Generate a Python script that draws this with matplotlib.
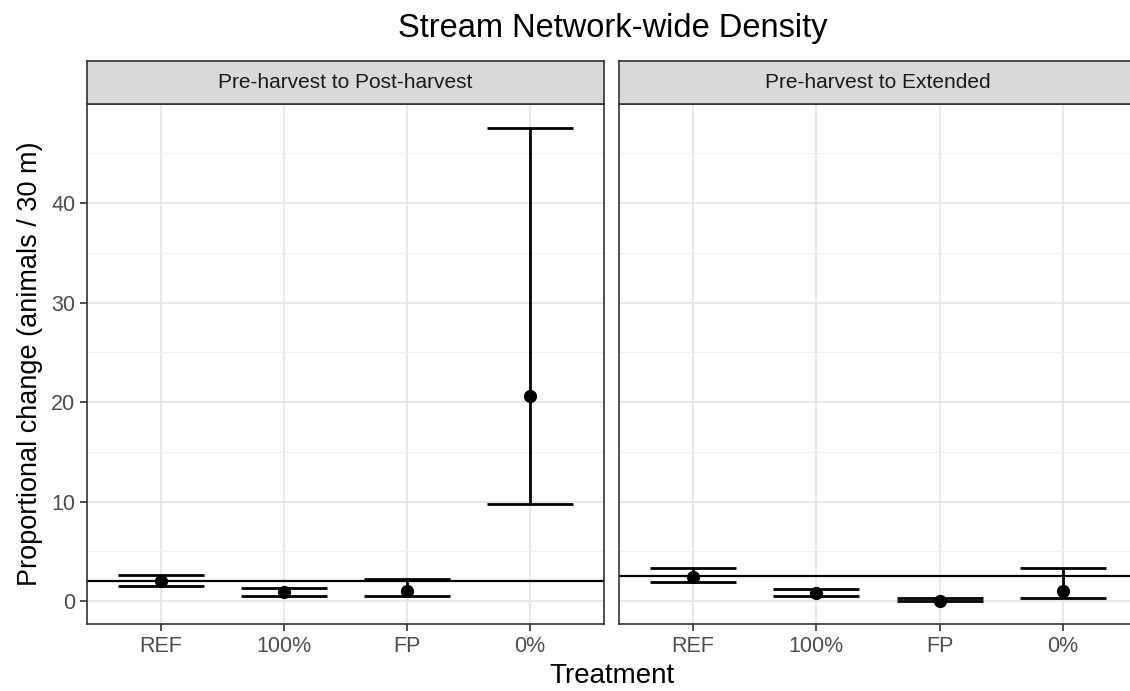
import matplotlib.pyplot as plt
import numpy as np

plt.rcParams['font.family'] = ['Liberation Sans', 'DejaVu Sans']

treatments = ["REF", "100%", "FP", "0%"]
panels = ["Pre-harvest to Post-harvest", "Pre-harvest to Extended"]

# estimates and interval bounds, one list per panel
est_post = [2.05, 0.93, 1.03, 20.6]
low_post = [1.55, 0.53, 0.47, 9.8]
high_post = [2.65, 1.3, 2.2, 47.5]
ref_post = 2.04

est_ext = [2.45, 0.8, 0.03, 1.03]
low_ext = [1.88, 0.53, -0.03, 0.3]
high_ext = [3.35, 1.17, 0.33, 3.35]
ref_ext = 2.5

fig = plt.figure(figsize=(11.3, 6.91), dpi=100)

W, H = 1130, 691
ax1 = fig.add_axes([87 / W, 1 - 624 / H, 517 / W, 520 / H])
ax2 = fig.add_axes([619 / W, 1 - 624 / H, 518 / W, 520 / H])

data = [(ax1, est_post, low_post, high_post, ref_post),
        (ax2, est_ext, low_ext, high_ext, ref_ext)]

x = np.arange(1, len(treatments) + 1)
for i, (ax, est, low, high, ref) in enumerate(data):
    est = np.array(est)
    low = np.array(low)
    high = np.array(high)
    ax.set_xlim(0.4, 4.6)
    ax.set_ylim(-2.3, 49.95)
    ax.set_yticks([0, 10, 20, 30, 40])
    ax.set_yticks([5, 15, 25, 35, 45], minor=True)
    ax.set_xticks(x)
    ax.set_xticklabels(treatments)
    ax.grid(True, which='major', color='#e6e6e6', linewidth=1.3)
    ax.grid(True, which='minor', axis='y', color='#f0f0f0', linewidth=0.8)
    ax.set_axisbelow(True)
    ax.axhline(ref, color='black', linewidth=1.6, zorder=2)
    ax.errorbar(x, est, yerr=[est - low, high - est], fmt='o', color='black',
                markersize=8.5, elinewidth=2, capsize=31, capthick=2, zorder=3)
    for s in ax.spines.values():
        s.set_color('#333333')
        s.set_linewidth(1.2)
    ax.tick_params(axis='both', which='major', colors='#333333', labelcolor='#4d4d4d',
                   labelsize=15.5, length=5, width=1.2)
    ax.tick_params(axis='y', which='minor', length=0)
    if i == 1:
        ax.tick_params(axis='y', labelleft=False, left=False)
    # facet strip
    bb = ax.get_position()
    strip = fig.add_axes([bb.x0, 1 - 104 / H, bb.width, 43 / H])
    strip.set_facecolor('#d9d9d9')
    strip.set_xticks([])
    strip.set_yticks([])
    for s in strip.spines.values():
        s.set_color('#333333')
        s.set_linewidth(1.2)
    strip.text(0.5, 0.5, panels[i], ha='center', va='center', fontsize=15,
               color='#1a1a1a', transform=strip.transAxes)

ax1.set_ylabel("Proportional change (animals / 30 m)", fontsize=19.5, labelpad=6)
fig.text(612 / W, 1 - 676 / H, "Treatment", ha='center', va='center', fontsize=20)
fig.text(613 / W, 1 - 28 / H, "Stream Network-wide Density", ha='center', va='center', fontsize=23.5)

fig.savefig("out.png", dpi=100)
